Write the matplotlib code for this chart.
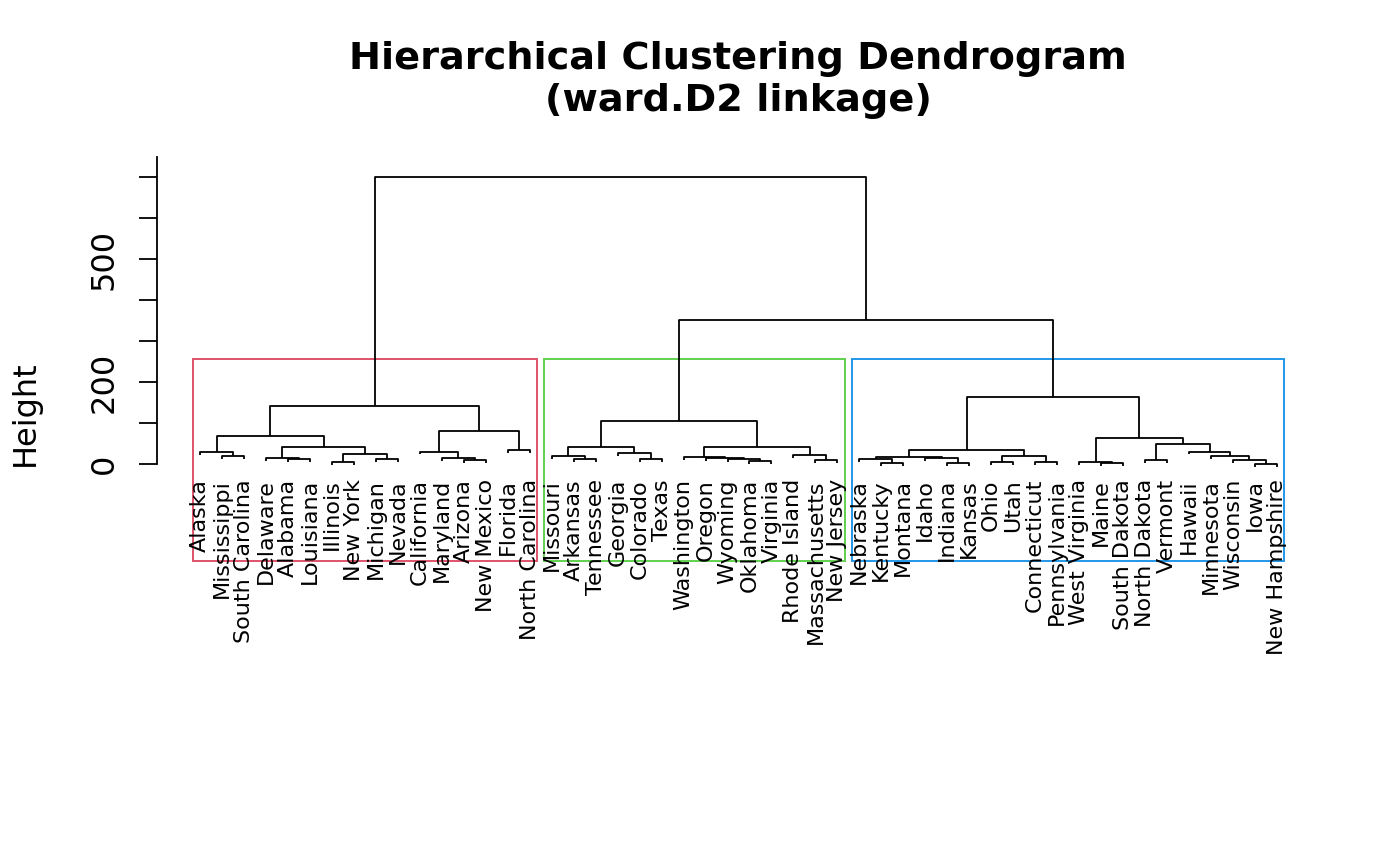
import matplotlib
matplotlib.use("Agg")
import matplotlib.pyplot as plt
from matplotlib.patches import Rectangle

plt.rcParams['font.family'] = ['DejaVu Sans']

# leaves in display order
leaves = ["Alaska", "Mississippi", "South Carolina", "Delaware", "Alabama",
          "Louisiana", "Illinois", "New York", "Michigan", "Nevada",
          "California", "Maryland", "Arizona", "New Mexico", "Florida",
          "North Carolina", "Missouri", "Arkansas", "Tennessee", "Georgia",
          "Colorado", "Texas", "Washington", "Oregon", "Wyoming", "Oklahoma",
          "Virginia", "Rhode Island", "Massachusetts", "New Jersey",
          "Nebraska", "Kentucky", "Montana", "Idaho", "Indiana", "Kansas",
          "Ohio", "Utah", "Connecticut", "Pennsylvania", "West Virginia",
          "Maine", "South Dakota", "North Dakota", "Vermont", "Hawaii",
          "Minnesota", "Wisconsin", "Iowa", "New Hampshire"]

# merges: left child, right child (leaf name or index of earlier merge)
merge_left = ["Mississippi", "Alaska", "Alabama", "Delaware", "Illinois",
              "Michigan", 4, 3, 1, "Arizona", "Maryland", "California",
              "Florida", 11, 8,
              "Arkansas", "Missouri", "Colorado", "Georgia", 16, "Oklahoma",
              "Wyoming", "Oregon", "Washington", "Massachusetts",
              "Rhode Island", 23, 19,
              "Kentucky", "Nebraska", "Indiana", "Idaho", 29, "Ohio",
              "Connecticut", 33, 32, "Maine", "West Virginia", "North Dakota",
              "Iowa", "Wisconsin", "Minnesota", "Hawaii", 39, 38, 36, 27, 14]
merge_right = ["South Carolina", 0, "Louisiana", 2, "New York", "Nevada",
               5, 6, 7, "New Mexico", 9, 10, "North Carolina", 12, 13,
               "Tennessee", 15, "Texas", 17, 18, "Virginia", 20, 21, 22,
               "New Jersey", 24, 25, 26,
               "Montana", 28, "Kansas", 30, 31, "Utah", "Pennsylvania", 34,
               35, "South Dakota", 37, "Vermont", "New Hampshire", 40, 41,
               42, 43, 44, 45, 46, 47]
merge_height = [21, 29, 13, 16, 5, 12, 24, 43, 68, 11, 15, 31, 35, 81, 141,
                12, 21, 13, 27, 41, 8, 12, 15, 18, 10.5, 23, 43, 105,
                2.4, 13, 2.4, 14.6, 18.5, 5, 5, 21, 36, 2.4, 5, 10.5, 0.7,
                10.5, 21, 31, 49.5, 65, 163, 352, 701]

# cluster boxes (k = 3): first leaf, last leaf, colour
box_first = [1, 17, 31]
box_last = [16, 30, 50]
box_color = ["#DF536B", "#61D04F", "#2297E6"]

hang = 7
label_y = -36

fig = plt.figure(figsize=(14, 8.66), dpi=100)
ax = fig.add_axes([157 / 1400, 1 - 561 / 866, 1163 / 1400, 404 / 866])

leaf_x = {name: i + 1 for i, name in enumerate(leaves)}
node_x = []
for l, r, h in zip(merge_left, merge_right, merge_height):
    xs, ys = [], []
    for c in (l, r):
        if isinstance(c, str):
            xs.append(leaf_x[c])
            ys.append(h - hang)
        else:
            xs.append(node_x[c])
            ys.append(merge_height[c])
    ax.plot([xs[0], xs[0], xs[1], xs[1]], [ys[0], h, h, ys[1]],
            color="black", lw=1.3, solid_capstyle="butt")
    node_x.append((xs[0] + xs[1]) / 2)

for name, x in leaf_x.items():
    ax.text(x, label_y, name, rotation=90, ha="center", va="top",
            fontsize=16)

box_top = (merge_height[-2] + merge_height[-3]) / 2
ymin, ymax = -235.6, 748.6
for a, b, col in zip(box_first, box_last, box_color):
    ax.add_patch(Rectangle((a - 0.34, ymin), b - a + 0.67, box_top - ymin,
                           fill=False, edgecolor=col, lw=1.4, clip_on=False))

ax.set_xlim(-0.96, 51.96)
ax.set_ylim(ymin, ymax)
ax.set_xticks([])
for s in ["top", "right", "bottom"]:
    ax.spines[s].set_visible(False)
ax.spines["left"].set_bounds(0, ymax)
ax.spines["left"].set_linewidth(1.3)
ax.set_yticks(range(0, 800, 100))
ax.set_yticklabels(["0", "", "200", "", "", "500", "", ""])
ax.tick_params(axis="y", length=13, width=1.3, pad=14, labelsize=23)
for t in ax.get_yticklabels():
    t.set_rotation(90)
    t.set_va("center")

fig.text(25 / 1400, 1 - 413 / 866, "Height", rotation=90, ha="center",
         va="center", fontsize=23)
fig.text(738 / 1400, 1 - 80 / 866,
         "Hierarchical Clustering Dendrogram\n(ward.D2 linkage)",
         ha="center", va="center", fontsize=27.5, fontweight="bold")

fig.savefig("out.png", dpi=100)
